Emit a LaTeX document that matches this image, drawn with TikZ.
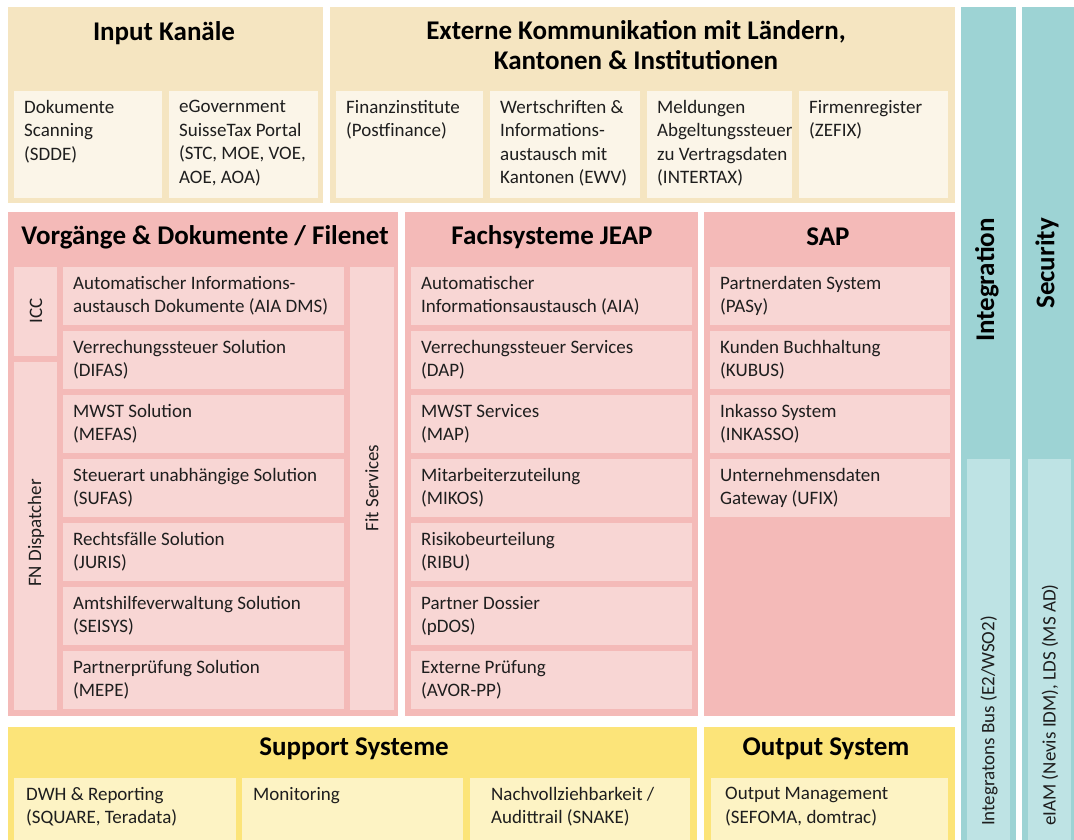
\documentclass[tikz,border=0pt]{standalone}
\usepackage{fontspec}
\setmainfont{Carlito}

\definecolor{sandout}{RGB}{245,229,193}
\definecolor{sandin}{RGB}{251,245,232}
\definecolor{roseout}{RGB}{244,186,184}
\definecolor{rosein}{RGB}{248,214,212}
\definecolor{sunout}{RGB}{252,228,121}
\definecolor{sunin}{RGB}{253,243,196}
\definecolor{tealout}{RGB}{157,211,212}
\definecolor{tealin}{RGB}{190,227,228}
\definecolor{ink}{RGB}{30,30,30}

\tikzset{
  celltext/.style={inner sep=0pt, align=left, text=ink, font=\fontsize{19}{23.5}\selectfont},
  titletext/.style={inner sep=0pt, align=center, text=black, font=\fontsize{27}{30}\bfseries\selectfont},
  sidetext/.style={celltext, rotate=90},
}

% filled cell with its text at the top left: [pad] fill, name, x1, y1, x2, y2, text
\newcommand{\cell}[8][10]{%
  \fill[#2] (#4,#5) rectangle (#6,#7);
  \node[celltext, anchor=north west] (#3) at (#4+#1,#5+9) {#8};
}

\begin{document}
\begin{tikzpicture}[x=1pt,y=-1pt]
  \useasboundingbox[fill=white] (0,0) rectangle (1074,840);

  \fill[sandout] (8,7) rectangle (323,203);
  \node[titletext] (inputtitle) at (164,33) {Input Kanäle};
  \cell{sandin}{scan}{14}{91}{162}{198}{Dokumente\\Scanning\\(SDDE)}
  \cell{sandin}{egov}{169}{91}{318}{198}{eGovernment\\SuisseTax Portal\\(STC, MOE, VOE,\\AOE, AOA)}

  \fill[sandout] (330,7) rectangle (955,203);
  \node[titletext] (externtitle) at (636,45) {Externe Kommunikation mit Ländern,\\Kantonen \& Institutionen};
  \cell{sandin}{finanz}{336}{91}{483}{198}{Finanzinstitute\\(Postfinance)}
  \cell{sandin}{ewv}{490}{91}{640}{198}{Wertschriften \&\\Informations-\\austausch mit\\Kantonen (EWV)}
  \cell{sandin}{intertax}{647}{91}{792}{198}{Meldungen\\Abgeltungssteuer\\zu Vertragsdaten\\(INTERTAX)}
  \cell{sandin}{zefix}{799}{91}{948}{198}{Firmenregister\\(ZEFIX)}

  \fill[roseout] (8,212) rectangle (398,716);
  \node[titletext] (filenettitle) at (205,237) {Vorgänge \& Dokumente / Filenet};
  \fill[rosein] (14,267) rectangle (57,356);
  \node[sidetext] (icc) at (36,311) {ICC};
  \fill[rosein] (14,362) rectangle (57,710);
  \node[sidetext] (dispatcher) at (36,533) {FN Dispatcher};
  \fill[rosein] (350,267) rectangle (394,710);
  \node[sidetext] (fit) at (372,488) {Fit Services};
  \foreach \txt [count=\i from 0] in {
      {Automatischer Informations-\\austausch Dokumente (AIA DMS)},
      {Verrechungssteuer Solution\\(DIFAS)},
      {MWST Solution\\(MEFAS)},
      {Steuerart unabhängige Solution\\(SUFAS)},
      {Rechtsfälle Solution\\(JURIS)},
      {Amtshilfeverwaltung Solution\\(SEISYS)},
      {Partnerprüfung Solution\\(MEPE)}}
    \cell{rosein}{fn\i}{63}{267+64*\i}{344}{325+64*\i}{\txt};

  \fill[roseout] (405,212) rectangle (698,716);
  \node[titletext] (jeaptitle) at (552,237) {Fachsysteme JEAP};
  \foreach \txt [count=\i from 0] in {
      {Automatischer\\Informationsaustausch (AIA)},
      {Verrechungssteuer Services\\(DAP)},
      {MWST Services\\(MAP)},
      {Mitarbeiterzuteilung\\(MIKOS)},
      {Risikobeurteilung\\(RIBU)},
      {Partner Dossier\\(pDOS)},
      {Externe Prüfung\\(AVOR-PP)}}
    \cell{rosein}{jeap\i}{411}{267+64*\i}{692}{325+64*\i}{\txt};

  \fill[roseout] (704,212) rectangle (955,716);
  \node[titletext] (saptitle) at (828,237) {SAP};
  \foreach \txt [count=\i from 0] in {
      {Partnerdaten System\\(PASy)},
      {Kunden Buchhaltung\\(KUBUS)},
      {Inkasso System\\(INKASSO)},
      {Unternehmensdaten\\Gateway (UFIX)}}
    \cell{rosein}{sap\i}{710}{267+64*\i}{950}{325+64*\i}{\txt};

  \fill[sunout] (8,727) rectangle (697,840);
  \node[titletext] (supporttitle) at (354,749) {Support Systeme};
  \cell[12]{sunin}{dwh}{14}{778}{236}{840}{DWH \& Reporting\\(SQUARE, Teradata)}
  \cell[11]{sunin}{monitor}{242}{778}{463}{840}{Monitoring}
  \cell[21]{sunin}{snake}{470}{778}{690}{840}{Nachvollziehbarkeit /\\Audittrail (SNAKE)}

  \fill[sunout] (704,727) rectangle (955,840);
  \node[titletext] (outputtitle) at (826,749) {Output System};
  \cell[14]{sunin}{sefoma}{711}{778}{948}{840}{Output Management\\(SEFOMA, domtrac)}

  \fill[tealout] (961,7) rectangle (1016,840);
  \fill[tealin] (967,459) rectangle (1010,840);
  \node[titletext, rotate=90, anchor=east] (integration) at (987,218) {Integration};
  \node[sidetext, anchor=west] (bus) at (989,826) {Integratons Bus (E2/WSO2)};

  \fill[tealout] (1022,7) rectangle (1074,840);
  \fill[tealin] (1028,459) rectangle (1071,840);
  \node[titletext, rotate=90, anchor=east] (security) at (1047,218) {Security};
  \node[sidetext, anchor=west] (eiam) at (1050,826) {eIAM (Nevis IDM), LDS (MS AD)};
\end{tikzpicture}
\end{document}
